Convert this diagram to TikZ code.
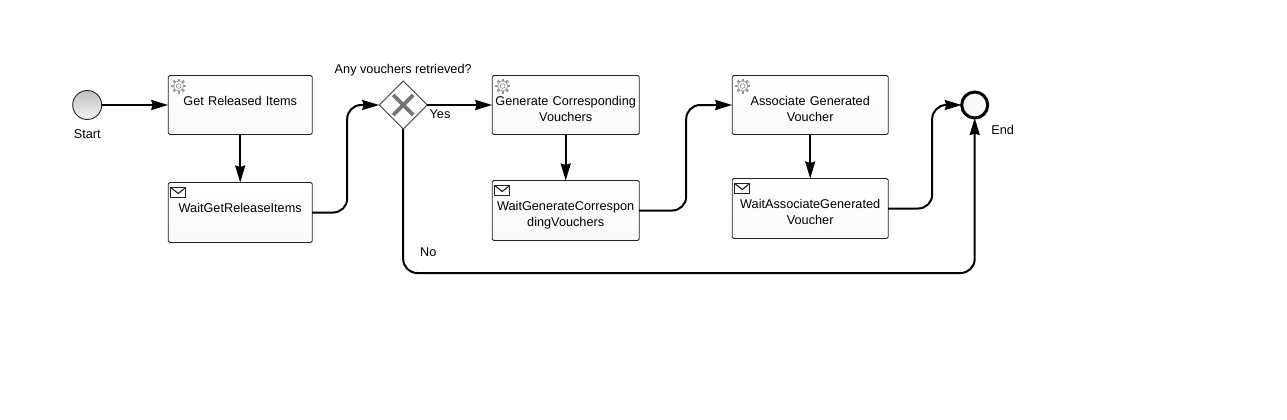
\documentclass[tikz,border=0pt]{standalone}
\usepackage{fontspec}
\setmainfont{Liberation Sans}
\usetikzlibrary{positioning}
\usetikzlibrary{arrows.meta}
\usetikzlibrary{shapes.geometric}
\definecolor{edgegray}{HTML}{222222}
\tikzset{basic/.style={draw=edgegray,line width=0.9pt,top color=white,bottom color=black!2}}
\tikzset{task/.style={basic,rectangle,rounded corners=1.5pt,inner sep=0pt,outer sep=0pt,align=center,font=\fontsize{12.7}{16}\selectfont,text width=#1,text height=29.5pt,text depth=29.5pt}}
\tikzset{waittask/.style={task=#1,text depth=30.5pt}}
\tikzset{gate/.style={basic,diamond,aspect=1,inner sep=0pt,outer sep=0pt,minimum size=48pt,draw=black!75}}
\tikzset{startevent/.style={circle,draw=edgegray,line width=0.9pt,top color=black!25,bottom color=black!5,inner sep=0pt,outer sep=0pt,minimum size=29pt}}
\tikzset{endevent/.style={circle,draw=black,line width=3pt,fill=black!2,inner sep=0pt,outer sep=0pt,minimum size=26pt}}
\tikzset{caption/.style={font=\fontsize{12.7}{16}\selectfont,inner sep=0pt}}
\tikzset{flow/.style={draw,line width=2pt,-{Stealth[length=17pt,width=10pt,inset=1.5pt]},rounded corners=14pt}}
\tikzset{gearicon/.pic={
    \foreach \ang in {0,45,...,315}
        \draw[black!40,line width=2.4pt] (0,0) -- (\ang:7.5);
    \draw[black!40,line width=0.7pt,fill=white] (0,0) circle (5);
    \draw[black!40,line width=0.7pt] (0,0) circle (2.4);
}}
\tikzset{mailicon/.pic={
    \draw[edgegray,line width=1.1pt,fill=white] (-7.5,-5) rectangle (7.5,5);
    \draw[edgegray,line width=1.1pt] (-7.5,-5) -- (0,1) -- (7.5,-5);
}}
\begin{document}
\begin{tikzpicture}[x=1pt,y=-1pt]
        \useasboundingbox (0,0) rectangle (1287,420);
        \node[startevent] (start) at (87.2,105) {};
        \node[caption,below=10pt of start] (startlabel) {Start};
        \node[task=144pt,right=66.5pt of start] (getitems) {Get Released Items};
        \node[waittask=144pt,below=48pt of getitems] (waititems) {WaitGetReleaseItems};
        \node[gate,right=67pt of getitems] (anyvouchers) {};
        \draw[black!55,line width=3.6pt] ([shift={(-10,-10)}]anyvouchers.center) -- ([shift={(10,10)}]anyvouchers.center);
        \draw[black!55,line width=3.6pt] ([shift={(10,-10)}]anyvouchers.center) -- ([shift={(-10,10)}]anyvouchers.center);
        \node[caption,above=29pt of anyvouchers.center] (gatelabel) {Any vouchers retrieved?};
        \node[task=147pt,right=65pt of anyvouchers] (generate) {Generate Corresponding\\Vouchers};
        \node[waittask=147pt,below=46pt of generate] (waitgenerate) {WaitGenerateCorrespon\\dingVouchers};
        \node[task=156pt,right=93pt of generate] (associate) {Associate Generated\\Voucher};
        \node[waittask=156pt,below=44pt of associate] (waitassociate) {WaitAssociateGenerated\\Voucher};
        \node[endevent,right=73.5pt of associate] (end) {};
        \node[caption] (endlabel) at (1002.7,129.5) {End};
        \node[caption] (yeslabel) at (440,114.5) {Yes};
        \node[caption] (nolabel) at (428.2,252.5) {No};
        % icons in the task corners
        \pic at ([shift={(10.5,10.5)}]getitems.north west) {gearicon};
        \pic at ([shift={(10.5,10.5)}]generate.north west) {gearicon};
        \pic at ([shift={(10.5,10.5)}]associate.north west) {gearicon};
        \pic at ([shift={(10,10)}]waititems.north west) {mailicon};
        \pic at ([shift={(10,10)}]waitgenerate.north west) {mailicon};
        \pic at ([shift={(10,10)}]waitassociate.north west) {mailicon};
        % bends of the connectors
        \coordinate (bend1) at (347.2,160);
        \coordinate (bend2) at (686.2,160);
        \coordinate (bend3) at (932.2,160);
        \coordinate (bend4) at (690,273);
        \path[flow] (start) -- (getitems);
        \path[flow] (getitems) -- (waititems);
        \path[flow] (waititems.east) -| (bend1) |- (anyvouchers.west);
        \path[flow] (anyvouchers) -- (generate);
        \path[flow] (generate) -- (waitgenerate);
        \path[flow] (waitgenerate.east) -| (bend2) |- (associate.west);
        \path[flow] (associate) -- (waitassociate);
        \path[flow] (waitassociate.east) -| (bend3) |- (end.west);
        \path[flow] (anyvouchers.south) |- (bend4) -| (end.south);
    \end{tikzpicture}
\end{document}
